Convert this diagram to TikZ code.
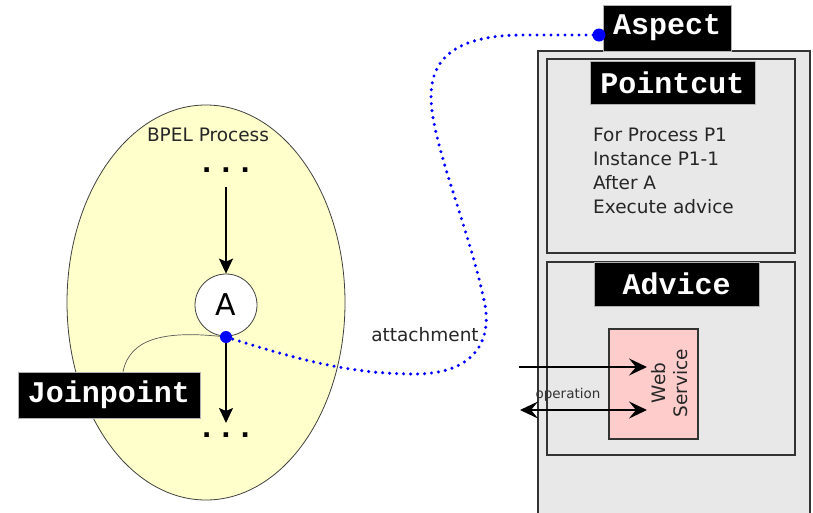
\documentclass[tikz,border=0pt]{standalone}
\usepackage{fontspec}
\setmainfont{DejaVu Sans}
\newfontfamily\codefont{Liberation Mono}
\usetikzlibrary{arrows.meta,shapes.geometric}
\definecolor{procfill}{RGB}{255,255,204}
\definecolor{panel}{RGB}{232,232,232}
\definecolor{panelline}{RGB}{51,51,51}
\definecolor{wsfill}{RGB}{255,204,204}
\definecolor{linkblue}{RGB}{0,0,255}
\tikzset{
  callhead/.tip={Stealth[length=18pt,width=17pt,inset=7pt]},
  tag/.style={fill=black, draw=gray!60, line width=0.6pt, text=white,
    font=\codefont\bfseries\fontsize{30}{32}\selectfont, inner sep=0pt},
  panelbox/.style={fill=panel, draw=panelline, line width=1.8pt},
  flow/.style={-{Stealth[length=15pt,width=14pt,inset=3pt]}, line width=1.8pt},
  call/.style={line width=2.8pt},
  ellipsis/.style={font=\codefont\bfseries\fontsize{32}{32}\selectfont, inner sep=0pt},
  link/.style={draw=linkblue, line width=3.4pt, line cap=round, dash pattern=on 0pt off 7pt},
  blob/.style={fill=linkblue, circle, inner sep=0pt, minimum size=12pt},
  body/.style={font=\fontsize{18.5}{24}\selectfont}
}
\begin{document}
\begin{tikzpicture}[x=1pt,y=-1pt]
\useasboundingbox (0,0) rectangle (813,512);
\clip (0,0) rectangle (813,512);
\fill[white] (0,0) rectangle (813,512);

% aspect container with its pointcut and advice panels
\draw[panelbox] (538,51) rectangle (810,540);
\node[panelbox, minimum width=248pt, minimum height=194pt, inner sep=0pt] (pcbox) at (671,156) {};
\node[panelbox, minimum width=248pt, minimum height=193pt, inner sep=0pt] (advbox) at (671,358.5) {};

\node[tag, minimum width=165pt, minimum height=43pt] (pclabel) at (672.5,82.5) {Pointcut};
\node[body, anchor=north west, align=left, inner sep=0pt, text=black!85] (pctext) at (593,128)
  {For Process P1\\Instance P1-1\\After A\\Execute advice};

\node[tag, minimum width=165pt, minimum height=44pt] (advlabel) at (676.5,284) {Advice};

% web service called by the advice
\node[fill=wsfill, draw=panelline, line width=1.2pt, minimum width=89pt, minimum height=110pt, inner sep=0pt] (ws) at (653.5,384) {};
\coordinate (inA) at (519,367);
\coordinate (tipA) at (647,367);
\coordinate (inB) at (520,410);
\coordinate (tipB) at (647,410);
\draw[call, -callhead] (inA) -- (tipA);
\draw[call, callhead-callhead] (inB) -- (tipB);
\node[rotate=90, align=center, inner sep=0pt, font=\fontsize{18.5}{22}\selectfont, text=black!85] (wslabel) at (670,383) {Web\\Service};
\node[inner sep=0pt, font=\fontsize{13.5}{14}\selectfont, text=black!80] (oplabel) at (568,395) {operation};

\node[tag, minimum width=128pt, minimum height=46pt] (aspect) at (667,28) {Aspect};

% BPEL process
\node[ellipse, draw=black!75, line width=0.8pt, fill=procfill, minimum width=278pt, minimum height=395pt, inner sep=0pt] (proc) at (206,302.5) {};
\node[body, inner sep=0pt, text=black!85] (bpel) at (208,135) {BPEL Process};
\node[ellipsis] (dtop) at (226,170) {...};
\node[circle, draw=black!75, line width=0.8pt, fill=white, minimum size=62pt, inner sep=0pt,
  font=\fontsize{30}{30}\selectfont] (actA) at (226,305) {A};
\node[ellipsis] (dbot) at (226,435) {...};
\coordinate (jp) at (226,337);
\draw[flow] ([yshift=-17pt]dtop.center) -- (actA.north);
\draw[flow] (jp) -- ([yshift=12pt]dbot.center);

% joinpoint callout
\node[tag, minimum width=182pt, minimum height=46pt] (jplabel) at (109,395) {Joinpoint};
\draw[black!65, line width=0.7pt] (jplabel.north -| 123,0) .. controls (130,338) and (165,330) .. (jp);

% attachment of the aspect to the joinpoint
\coordinate (asp) at (599,35);
\draw[link] (jp) .. controls (300,360) and (350,374) .. (415,374)
  .. controls (470,374) and (492,345) .. (485,305)
  .. controls (470,230) and (430,140) .. (431,95)
  .. controls (432,55) and (460,36) .. (520,35) -- (asp);
\node[blob] (jpdot) at (jp) {};
\node[blob, minimum size=13pt] (aspdot) at (asp) {};
\node[body, inner sep=0pt, text=black!85] (attach) at (425,335) {attachment};
\end{tikzpicture}
\end{document}
